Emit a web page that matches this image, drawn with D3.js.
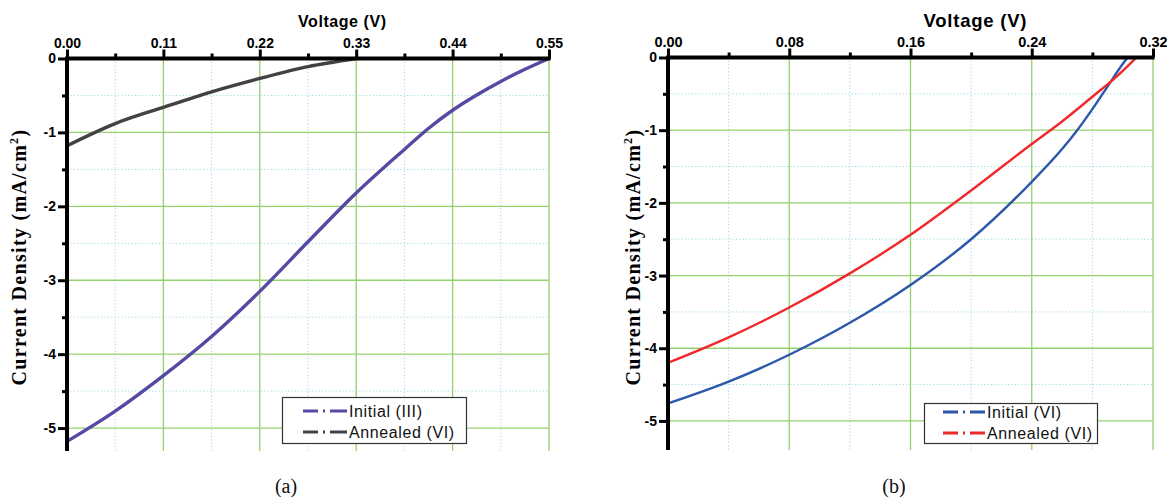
<!DOCTYPE html>
<html><head><meta charset="utf-8">
<script src="https://cdn.jsdelivr.net/npm/d3@7"></script>
<style>
html,body{margin:0;padding:0;background:#fff;}
svg{display:block;}
</style></head>
<body>
<svg id="c" width="1167" height="497"></svg>
<script>
// ---------- DATA ----------
// Panel (a)
const xTicksA = [0, 0.11, 0.22, 0.33, 0.44, 0.55];
const xTickLabelsA = ["0.00", "0.11", "0.22", "0.33", "0.44", "0.55"];
const xMinorA = [0.055, 0.165, 0.275, 0.385, 0.495];
const voltInitialA = [0, 0.055, 0.11, 0.165, 0.22, 0.275, 0.33, 0.385, 0.412, 0.44, 0.468, 0.495, 0.522, 0.55];
const jInitialIII = [-5.18, -4.77, -4.29, -3.76, -3.15, -2.48, -1.82, -1.23, -0.95, -0.70, -0.49, -0.31, -0.15, 0];
const voltAnnealedA = [0, 0.055, 0.11, 0.165, 0.22, 0.275, 0.33];
const jAnnealedVIa = [-1.18, -0.88, -0.66, -0.45, -0.27, -0.11, 0];
const seriesNamesA = ["Initial (III)", "Annealed (VI)"];

// Panel (b)
const xTicksB = [0, 0.08, 0.16, 0.24, 0.32];
const xTickLabelsB = ["0.00", "0.08", "0.16", "0.24", "0.32"];
const xMinorB = [0.04, 0.12, 0.20, 0.28];
const voltInitialB = [0, 0.04, 0.08, 0.12, 0.16, 0.20, 0.24, 0.26, 0.27, 0.28, 0.29, 0.30, 0.3033];
const jInitialVI = [-4.76, -4.46, -4.09, -3.65, -3.13, -2.50, -1.71, -1.26, -1.00, -0.71, -0.40, -0.09, 0];
const voltAnnealedB = [0, 0.04, 0.08, 0.12, 0.16, 0.20, 0.24, 0.26, 0.28, 0.295, 0.309];
const jAnnealedVIb = [-4.20, -3.85, -3.44, -2.97, -2.44, -1.83, -1.19, -0.88, -0.54, -0.28, 0];
const seriesNamesB = ["Initial (VI)", "Annealed (VI)"];

// Shared y ticks
const yTicks = [0, -1, -2, -3, -4, -5];
const yTickLabels = ["0", "-1", "-2", "-3", "-4", "-5"];
const yMinor = [-0.5, -1.5, -2.5, -3.5, -4.5];

// ---------- DRAW ----------
const svg = d3.select("#c");
const SANS = "'Liberation Sans', Arial, sans-serif";
const SERIF = "'Liberation Serif', 'Times New Roman', serif";
const MAJOR_GRID = "#93d16f";
const MINOR_GRID = "#9fd9e6";

const panels = [
  {
    left: 67, right: 549, top: 58.5, bottom: 451,
    xDomain: [0, 0.55], yMin: -5.31,
    xTicks: xTicksA, xLabels: xTickLabelsA, xMinor: xMinorA,
    series: [
      {x: voltInitialA, y: jInitialIII, color: "#5749a3", name: seriesNamesA[0]},
      {x: voltAnnealedA, y: jAnnealedVIa, color: "#424242", name: seriesNamesA[1]}
    ],
    lineWidth: 3.4,
    tickFont: 14, titleFont: 16, titleX: 342, titleLen: 88,
    yTitleX: 20, tickLabelSize: 14,
    legend: {x: 282, y: 397, w: 184, h: 46, lineX0: 303, lineX1: 347, textX: 349, rows: [411, 432]},
    caption: "(a)", captionX: 286
  },
  {
    left: 668, right: 1153, top: 57.5, bottom: 450,
    xDomain: [0, 0.32], yMin: -5.4,
    xTicks: xTicksB, xLabels: xTickLabelsB, xMinor: xMinorB,
    series: [
      {x: voltInitialB, y: jInitialVI, color: "#2c57aa", name: seriesNamesB[0]},
      {x: voltAnnealedB, y: jAnnealedVIb, color: "#f0282b", name: seriesNamesB[1]}
    ],
    lineWidth: 2.4,
    tickFont: 14.5, titleFont: 18.5, titleX: 975, titleLen: 103,
    yTitleX: 634, tickLabelSize: 14,
    legend: {x: 924, y: 403, w: 173, h: 40, lineX0: 943, lineX1: 985, textX: 987, rows: [412, 433]},
    caption: "(b)", captionX: 894
  }
];

panels.forEach(p => {
  const x = d3.scaleLinear().domain(p.xDomain).range([p.left, p.right]);
  const y = d3.scaleLinear().domain([0, p.yMin]).range([p.top, p.bottom]);
  const g = svg.append("g");

  // minor grid (dotted)
  g.selectAll(".mvx").data(p.xMinor).join("line")
    .attr("x1", d => x(d)).attr("x2", d => x(d))
    .attr("y1", p.top).attr("y2", p.bottom)
    .attr("stroke", MINOR_GRID).attr("stroke-width", 1).attr("stroke-dasharray", "1.2,2.2");
  g.selectAll(".mhy").data(yMinor).join("line")
    .attr("x1", p.left).attr("x2", p.right)
    .attr("y1", d => y(d)).attr("y2", d => y(d))
    .attr("stroke", MINOR_GRID).attr("stroke-width", 1).attr("stroke-dasharray", "1.2,2.2");

  // major grid
  g.selectAll(".gvx").data(p.xTicks.slice(1)).join("line")
    .attr("x1", d => x(d)).attr("x2", d => x(d))
    .attr("y1", p.top).attr("y2", p.bottom)
    .attr("stroke", MAJOR_GRID).attr("stroke-width", 1.3);
  g.selectAll(".ghy").data(yTicks.slice(1)).join("line")
    .attr("x1", p.left).attr("x2", p.right)
    .attr("y1", d => y(d)).attr("y2", d => y(d))
    .attr("stroke", MAJOR_GRID).attr("stroke-width", 1.3);

  // curves
  const line = d3.line().x(d => x(d[0])).y(d => y(d[1])).curve(d3.curveMonotoneX);
  p.series.forEach(s => {
    const pts = s.x.map((v, i) => [v, s.y[i]]);
    g.append("path").datum(pts).attr("d", line)
      .attr("fill", "none").attr("stroke", s.color)
      .attr("stroke-width", p.lineWidth).attr("stroke-linejoin", "round").attr("stroke-linecap", "round");
  });

  // x axis (top)
  const xAxis = d3.axisTop(x).tickValues(p.xTicks)
    .tickFormat((d, i) => p.xLabels[i]).tickSizeInner(9).tickSizeOuter(0).tickPadding(2);
  const xa = g.append("g").attr("transform", `translate(0,${p.top})`).call(xAxis);
  const xAxisMinor = d3.axisTop(x).tickValues(p.xMinor).tickFormat("").tickSizeInner(5).tickSizeOuter(0);
  const xam = g.append("g").attr("transform", `translate(0,${p.top})`).call(xAxisMinor);
  [xa, xam].forEach(a => {
    a.select(".domain").remove();
    a.selectAll(".tick line").attr("stroke", "#000").attr("stroke-width", 3);
  });
  xa.selectAll(".tick text").attr("fill", "#000").attr("font-family", SANS)
    .attr("font-weight", "bold").attr("font-size", p.tickFont);

  // y axis (left)
  const yAxis = d3.axisLeft(y).tickValues(yTicks)
    .tickFormat((d, i) => yTickLabels[i]).tickSizeInner(9).tickSizeOuter(0).tickPadding(2);
  const ya = g.append("g").attr("transform", `translate(${p.left},0)`).call(yAxis);
  const yAxisMinor = d3.axisLeft(y).tickValues(yMinor).tickFormat("").tickSizeInner(5).tickSizeOuter(0);
  const yam = g.append("g").attr("transform", `translate(${p.left},0)`).call(yAxisMinor);
  [ya, yam].forEach(a => {
    a.select(".domain").remove();
    a.selectAll(".tick line").attr("stroke", "#000").attr("stroke-width", 3);
  });
  ya.selectAll(".tick text").attr("fill", "#000").attr("font-family", SANS)
    .attr("font-weight", "bold").attr("font-size", p.tickLabelSize);

  // axis lines
  g.append("line").attr("x1", p.left).attr("x2", p.right + 1.5).attr("y1", p.top).attr("y2", p.top)
    .attr("stroke", "#000").attr("stroke-width", 4);
  g.append("line").attr("x1", p.left).attr("x2", p.left).attr("y1", p.top - 2).attr("y2", p.bottom)
    .attr("stroke", "#000").attr("stroke-width", 4);

  // x title
  g.append("text").attr("x", p.titleX).attr("y", 27).attr("text-anchor", "middle")
    .attr("font-family", SANS).attr("font-weight", "bold").attr("font-size", p.titleFont)
    .attr("textLength", p.titleLen).attr("lengthAdjust", "spacing")
    .text("Voltage (V)");

  // y title
  const yt = g.append("text")
    .attr("transform", `translate(${p.yTitleX + 6},257) rotate(-90)`)
    .attr("text-anchor", "middle").attr("font-family", SERIF).attr("font-weight", "bold")
    .attr("font-size", 20).attr("letter-spacing", 1.3);
  yt.append("tspan").text("Current Density (mA/cm");
  yt.append("tspan").attr("font-size", 12).attr("dy", -8).text("2");
  yt.append("tspan").attr("dy", 8).text(")");

  // legend
  const L = p.legend;
  const lg = g.append("g");
  lg.append("rect").attr("x", L.x + 0.5).attr("y", L.y + 0.5).attr("width", L.w).attr("height", L.h)
    .attr("fill", "#fff").attr("stroke", "#333").attr("stroke-width", 1.2);
  p.series.forEach((s, i) => {
    lg.append("line").attr("x1", L.lineX0).attr("x2", L.lineX1)
      .attr("y1", L.rows[i]).attr("y2", L.rows[i])
      .attr("stroke", s.color).attr("stroke-width", 3.2)
      .attr("stroke-dasharray", "15,5,2,5,17");
    lg.append("text").attr("x", L.textX).attr("y", L.rows[i] + 6)
      .attr("font-family", SANS).attr("font-size", 16).attr("letter-spacing", 0.6)
      .attr("fill", "#111").text(s.name);
  });

  // caption
  g.append("text").attr("x", p.captionX).attr("y", 493).attr("text-anchor", "middle")
    .attr("font-family", SERIF).attr("font-size", 20).attr("fill", "#111").text(p.caption);
});
</script>
</body></html>
